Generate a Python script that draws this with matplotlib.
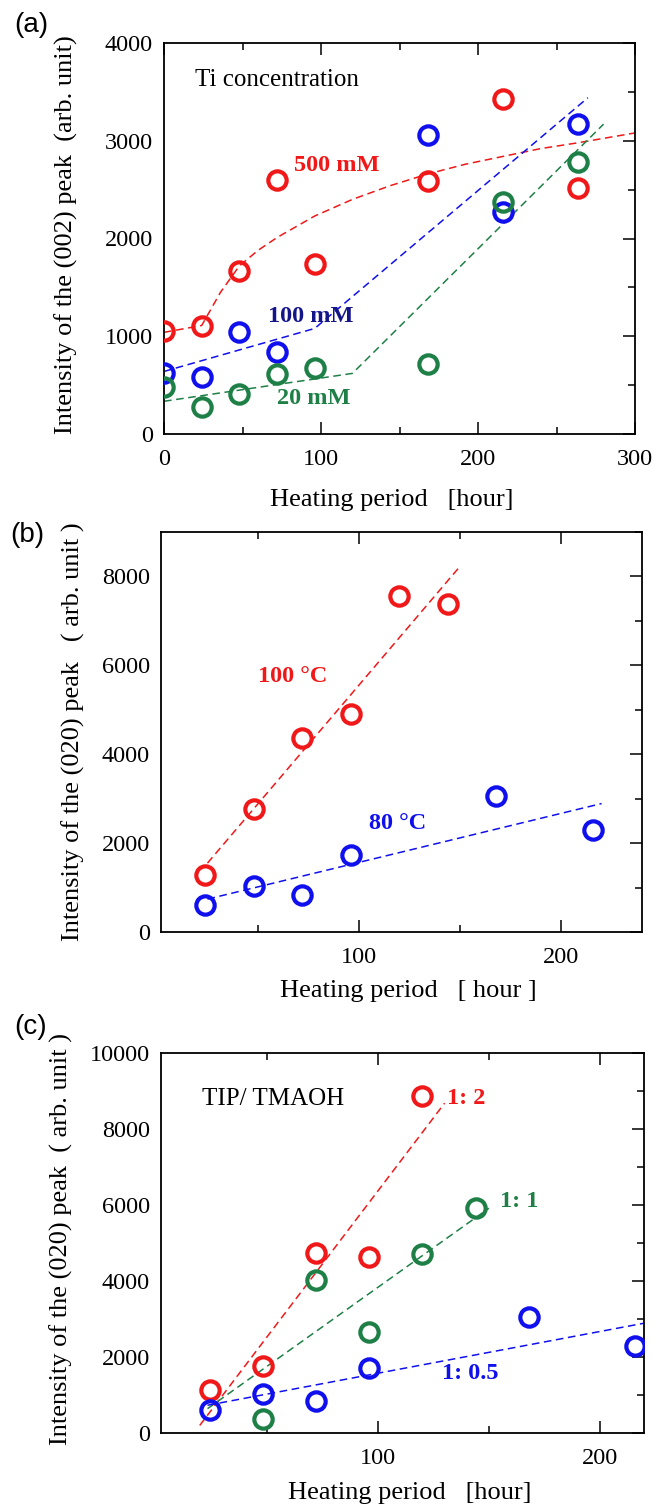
import matplotlib
matplotlib.use("Agg")
import matplotlib.pyplot as plt
from matplotlib.ticker import MultipleLocator

plt.rcParams['font.family'] = ['Liberation Serif', 'DejaVu Serif']

RED = '#f01818'
BLUE = '#1010ee'
GREEN = '#1e8046'
NAVY = '#15158a'

# ---- panel (a): Ti concentration ----
a_x = [0, 24, 48, 72, 96, 168, 216, 264]
a_500 = [1050, 1100, 1670, 2600, 1735, 2585, 3430, 2515]
a_100_x = [0, 24, 48, 72, 168, 216, 264]
a_100 = [620, 585, 1040, 835, 3055, 2275, 3175]
a_20 = [485, 275, 410, 615, 675, 715, 2370, 2780]
# guide lines (dashed)
a_500_fit_x = [0, 24, 36, 48, 60, 72, 96, 120, 144, 168, 192, 216, 240, 264, 300]
a_500_fit = [1040, 1110, 1450, 1720, 1880, 2010, 2230, 2400, 2540, 2660, 2760, 2840, 2920, 2980, 3080]
a_100_fit_x = [0, 96, 270]
a_100_fit = [640, 1080, 3440]
a_20_fit_x = [0, 120, 280]
a_20_fit = [335, 620, 3170]

# ---- panel (b): temperature ----
b_x100 = [24, 48, 72, 96, 120, 144]
b_100 = [1290, 2765, 4355, 4905, 7550, 7385]
b_x80 = [24, 48, 72, 96, 168, 216]
b_80 = [600, 1035, 840, 1730, 3065, 2285]
b_100_fit_x = [25, 150]
b_100_fit = [1550, 8230]
b_80_fit_x = [25, 220]
b_80_fit = [740, 2890]

# ---- panel (c): TIP / TMAOH ratio ----
c_x12 = [24, 48, 72, 96, 120]
c_12 = [1125, 1765, 4730, 4620, 8860]
c_x11 = [48, 72, 96, 120, 144]
c_11 = [380, 4025, 2645, 4700, 5915]
c_x105 = [24, 48, 72, 96, 168, 216]
c_105 = [600, 1035, 835, 1720, 3060, 2285]
c_12_fit_x = [19.5, 130]
c_12_fit = [200, 8680]
c_11_fit_x = [23, 150]
c_11_fit = [640, 5915]
c_105_fit_x = [23, 221]
c_105_fit = [730, 2900]

W, H = 652, 1508
fig = plt.figure(figsize=(W / 100, H / 100), dpi=100)


def make_axes(left, right, top, bottom):
    return fig.add_axes([left / W, 1 - bottom / H, (right - left) / W, (bottom - top) / H])


def style(ax):
    for s in ax.spines.values():
        s.set_linewidth(1.3)
    ax.tick_params(which='both', direction='in', top=True, right=True,
                   labelsize=17.5, width=1.1)
    ax.tick_params(which='major', length=8.6)
    ax.tick_params(which='minor', length=4.7)
    ax.tick_params(axis='x', which='both', pad=11)
    ax.tick_params(axis='y', which='both', left=False, pad=8)


def circles(ax, x, y, color):
    ax.plot(x, y, 'o', ms=13.2, mfc='none', mec=color, mew=3.0, zorder=3)


def guide(ax, x, y, color):
    ax.plot(x, y, '--', color=color, lw=1.1, dashes=(5, 3), zorder=2)


def labels(ax, xl, yl, xpos, ypos):
    ax.set_xlabel(xl, fontsize=19)
    ax.set_ylabel(yl, fontsize=19)
    ax.xaxis.set_label_coords(*xpos)
    ax.xaxis.label.set_va('center')
    ax.yaxis.set_label_coords(*ypos)
    ax.yaxis.label.set_va('center')


# (a)
ax = make_axes(164, 635, 43, 434)
style(ax)
guide(ax, a_500_fit_x, a_500_fit, RED)
guide(ax, a_100_fit_x, a_100_fit, BLUE)
guide(ax, a_20_fit_x, a_20_fit, GREEN)
circles(ax, a_x, a_500, RED)
circles(ax, a_100_x, a_100, BLUE)
circles(ax, a_x, a_20, GREEN)
ax.set_xlim(0, 300)
ax.set_ylim(0, 4000)
ax.xaxis.set_major_locator(MultipleLocator(100))
ax.xaxis.set_minor_locator(MultipleLocator(50))
ax.yaxis.set_major_locator(MultipleLocator(1000))
ax.yaxis.set_minor_locator(MultipleLocator(500))
ax.text(20, 3620, 'Ti concentration', fontsize=18, va='center')
ax.text(83, 2750, '500 mM', fontsize=17.5, fontweight='bold', color=RED, va='center')
ax.text(66, 1200, '100 mM', fontsize=17.5, fontweight='bold', color=NAVY, va='center')
ax.text(72, 365, '20 mM', fontsize=17.5, fontweight='bold', color=GREEN, va='center')
labels(ax, 'Heating period   [hour]', 'Intensity of the (002) peak  (arb. unit)',
       (0.484, -0.169), (-0.208, 0.51))

# (b)
ax = make_axes(161, 642, 532, 932)
style(ax)
guide(ax, b_100_fit_x, b_100_fit, RED)
guide(ax, b_80_fit_x, b_80_fit, BLUE)
circles(ax, b_x100, b_100, RED)
circles(ax, b_x80, b_80, BLUE)
ax.set_xlim(2, 240)
ax.set_ylim(0, 9000)
ax.set_xticks([100, 200])
ax.xaxis.set_minor_locator(MultipleLocator(50))
ax.yaxis.set_major_locator(MultipleLocator(2000))
ax.yaxis.set_minor_locator(MultipleLocator(1000))
ax.text(50, 5750, '100 °C', fontsize=17.5, fontweight='bold', color=RED, va='center')
ax.text(105, 2440, '80 °C', fontsize=17.5, fontweight='bold', color=BLUE, va='center')
labels(ax, 'Heating period   [ hour ]', 'Intensity of the (020) peak   ( arb. unit )',
       (0.514, -0.148), (-0.183, 0.5))

# (c)
ax = make_axes(161, 644, 1053, 1433)
style(ax)
guide(ax, c_12_fit_x, c_12_fit, RED)
guide(ax, c_11_fit_x, c_11_fit, GREEN)
guide(ax, c_105_fit_x, c_105_fit, BLUE)
circles(ax, c_x12, c_12, RED)
circles(ax, c_x11, c_11, GREEN)
circles(ax, c_x105, c_105, BLUE)
ax.set_xlim(2, 220)
ax.set_ylim(0, 10000)
ax.set_xticks([100, 200])
ax.xaxis.set_minor_locator(MultipleLocator(50))
ax.yaxis.set_major_locator(MultipleLocator(2000))
ax.yaxis.set_minor_locator(MultipleLocator(1000))
ax.text(20.5, 8800, 'TIP/ TMAOH', fontsize=18, va='center')
ax.text(131, 8800, '1: 2', fontsize=17.5, fontweight='bold', color=RED, va='center')
ax.text(155, 6080, '1: 1', fontsize=17.5, fontweight='bold', color=GREEN, va='center')
ax.text(129, 1560, '1: 0.5', fontsize=17.5, fontweight='bold', color=BLUE, va='center')
labels(ax, 'Heating period   [hour]', 'Intensity of the (020) peak  ( arb. unit )',
       (0.516, -0.158), (-0.207, 0.51))

# panel letters
for lab, ypix, xpix in [('(a)', 25, 14), ('(b)', 535, 10), ('(c)', 1027, 14)]:
    fig.text(xpix / W, 1 - ypix / H, lab, fontsize=20, family=['Liberation Sans', 'DejaVu Sans'],
             va='center', ha='left')

fig.savefig('out.png', dpi=100)
